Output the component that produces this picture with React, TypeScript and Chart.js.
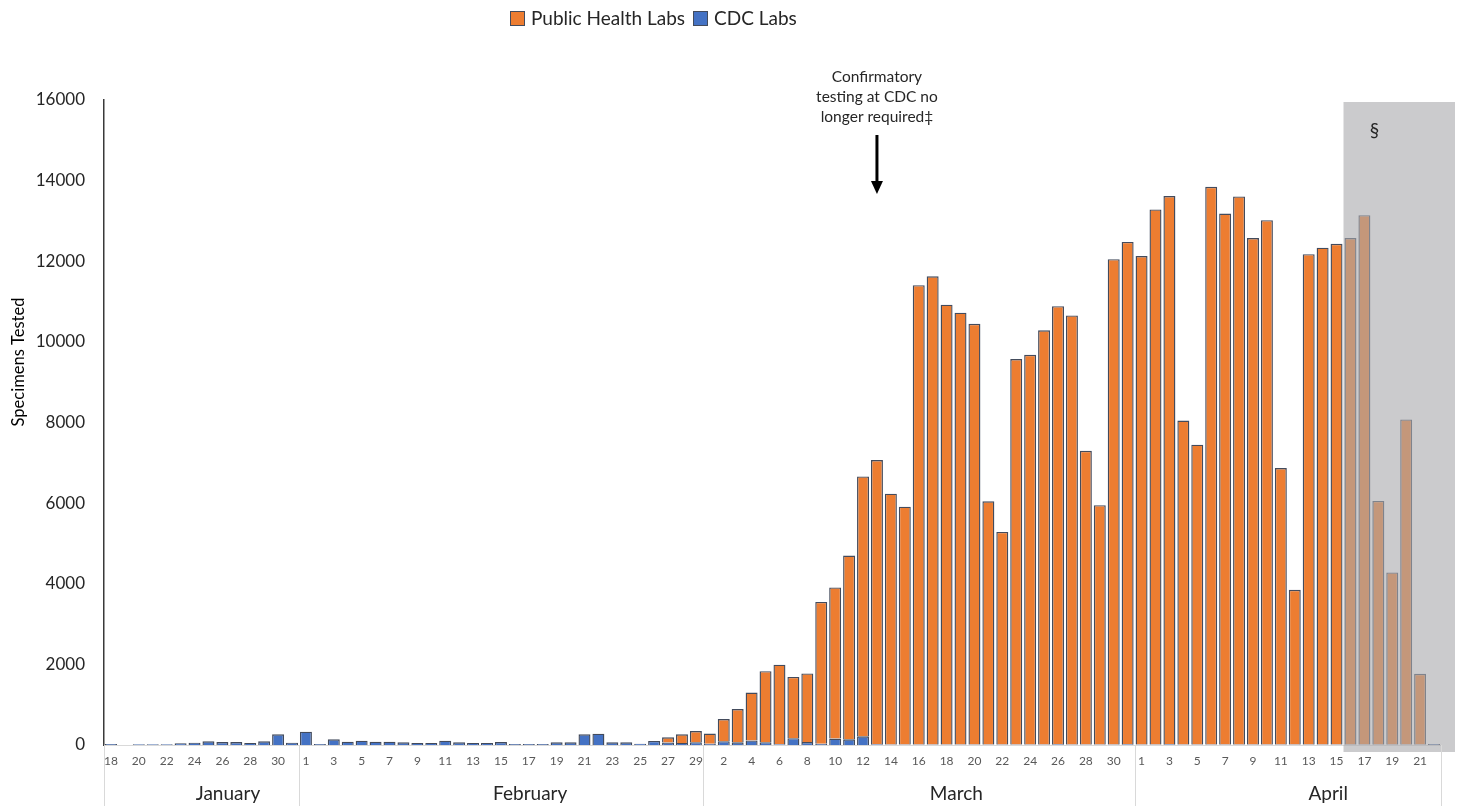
import React, { useEffect, useRef } from "react";
import { Chart, registerables } from "chart.js";

Chart.register(...registerables);

// ---------- DATA ----------
const januaryDays = [18, 19, 20, 21, 22, 23, 24, 25, 26, 27, 28, 29, 30, 31];
const februaryDays = [1, 2, 3, 4, 5, 6, 7, 8, 9, 10, 11, 12, 13, 14, 15, 16, 17, 18, 19, 20, 21, 22, 23, 24, 25, 26, 27, 28, 29];
const marchDays = [1, 2, 3, 4, 5, 6, 7, 8, 9, 10, 11, 12, 13, 14, 15, 16, 17, 18, 19, 20, 21, 22, 23, 24, 25, 26, 27, 28, 29, 30, 31];
const aprilDays = [1, 2, 3, 4, 5, 6, 7, 8, 9, 10, 11, 12, 13, 14, 15, 16, 17, 18, 19, 20, 21, 22];
const monthNames = ["January", "February", "March", "April"];

const cdcJanuary = [25, 0, 20, 20, 20, 42, 57, 91, 74, 74, 50, 91, 265, 57];
const cdcFebruary = [331, 25, 140, 83, 107, 83, 83, 66, 50, 50, 108, 66, 50, 50, 74, 25, 25, 25, 66, 66, 265, 281, 66, 66, 33, 100, 60, 50, 70];
const cdcMarch = [30, 95, 66, 114, 70, 20, 170, 75, 30, 160, 140, 215, 20, 15, 10, 15, 10, 10, 10, 10, 10, 10, 10, 10, 10, 20, 10, 10, 10, 10, 20];
const cdcApril = [10, 10, 20, 10, 10, 10, 10, 10, 10, 10, 10, 10, 10, 10, 10, 10, 10, 10, 10, 10, 10, 25];

const phlJanuary = [0, 0, 0, 0, 0, 0, 0, 0, 0, 0, 0, 0, 0, 0];
const phlFebruary = [0, 0, 0, 0, 0, 0, 0, 0, 0, 0, 0, 0, 0, 0, 0, 0, 0, 0, 0, 0, 0, 0, 0, 0, 0, 0, 130, 215, 277];
const phlMarch = [255, 550, 826, 1186, 1762, 1973, 1519, 1700, 3519, 3750, 4558, 6447, 7050, 6220, 5902, 11392, 11615, 10913, 10714, 10438, 6035, 5276, 9565, 9670, 10277, 10865, 10647, 7288, 5940, 12042, 12459];
const phlApril = [12118, 13276, 13598, 8038, 7440, 13836, 13172, 13599, 12564, 13010, 6860, 3840, 12166, 12327, 12422, 12564, 13134, 6045, 4270, 8066, 1755, 0];

const yMin = 0;
const yMax = 16000;
const yStep = 2000;

const seriesNames = ["Public Health Labs", "CDC Labs"];
const annotationLines = ["Confirmatory", "testing at CDC no", "longer required\u2021"];
const provisionalMark = "\u00a7";
const yTitle = "Specimens Tested";

// ---------- derived ----------
const monthDays = [januaryDays, februaryDays, marchDays, aprilDays];
const dayLabels = monthDays.flat();
const cdcLabs = [...cdcJanuary, ...cdcFebruary, ...cdcMarch, ...cdcApril];
const publicHealthLabs = [...phlJanuary, ...phlFebruary, ...phlMarch, ...phlApril];
const categories = dayLabels.map((d, i) => `${d}-${i}`);
// annotation points at March 13, shading starts April 16
const annotationIndex = januaryDays.length + februaryDays.length + marchDays.indexOf(13);
const provisionalStart = januaryDays.length + februaryDays.length + marchDays.length + aprilDays.indexOf(16);

const FONT = "Lato, 'Noto Sans', sans-serif";
const ORANGE = "#ED7D31";
const BLUE = "#4472C4";
const BAR_BORDER = "#434b5c";

const overlayPlugin = {
  id: "overlays",
  afterDatasetsDraw(chart: any) {
    const { ctx, chartArea, scales } = chart;
    const xs = scales.x;
    const ys = scales.y;
    const slot = (chartArea.right - chartArea.left) / categories.length;
    const x0 = xs.getPixelForValue(provisionalStart) - slot / 2;
    const x1 = chartArea.right + 14;
    const y0 = ys.getPixelForValue(yMax) + 2;
    const y1 = chartArea.bottom + 7;
    ctx.save();
    ctx.fillStyle = "rgba(168,168,171,0.6)";
    ctx.fillRect(x0, y0, x1 - x0, y1 - y0);
    ctx.restore();
  },
  afterDraw(chart: any) {
    const { ctx, chartArea, scales } = chart;
    const xs = scales.x;
    const slot = (chartArea.right - chartArea.left) / categories.length;
    ctx.save();

    // month dividers + labels
    ctx.strokeStyle = "#d9d9d9";
    ctx.lineWidth = 1;
    let start = 0;
    const boundaries = [0];
    monthDays.forEach((m) => {
      start += m.length;
      boundaries.push(start);
    });
    boundaries.forEach((b) => {
      const x = Math.round(chartArea.left + b * slot) + 0.5;
      ctx.beginPath();
      ctx.moveTo(x, chartArea.bottom);
      ctx.lineTo(x, chartArea.bottom + 61);
      ctx.stroke();
    });
    const monthLabelPos = [8.9, 30.6, 61.2, 87.9];
    ctx.fillStyle = "#262626";
    ctx.font = `19px ${FONT}`;
    ctx.textAlign = "center";
    ctx.textBaseline = "middle";
    monthNames.forEach((name, i) => {
      ctx.fillText(name, chartArea.left + monthLabelPos[i] * slot, chartArea.bottom + 49);
    });

    // legend
    const legendItems = [
      { text: seriesNames[0], color: ORANGE, x: 510 },
      { text: seriesNames[1], color: BLUE, x: 693 },
    ];
    ctx.font = `19px ${FONT}`;
    ctx.textAlign = "left";
    legendItems.forEach((it) => {
      ctx.fillStyle = it.color;
      ctx.fillRect(it.x, 11, 15, 15);
      ctx.strokeStyle = BAR_BORDER;
      ctx.lineWidth = 1;
      ctx.strokeRect(it.x + 0.5, 11.5, 14, 14);
      ctx.fillStyle = "#262626";
      ctx.fillText(it.text, it.x + 21, 19);
    });

    // annotation
    const ax = xs.getPixelForValue(annotationIndex);
    ctx.fillStyle = "#262626";
    ctx.font = `15.5px ${FONT}`;
    ctx.textAlign = "center";
    annotationLines.forEach((l, i) => {
      ctx.fillText(l, ax, 77 + i * 20);
    });
    ctx.strokeStyle = "#000";
    ctx.lineWidth = 3;
    ctx.beginPath();
    ctx.moveTo(ax, 135);
    ctx.lineTo(ax, 183);
    ctx.stroke();
    ctx.fillStyle = "#000";
    ctx.beginPath();
    ctx.moveTo(ax - 6, 181);
    ctx.lineTo(ax + 6, 181);
    ctx.lineTo(ax, 194);
    ctx.closePath();
    ctx.fill();

    // section mark
    ctx.font = `19px ${FONT}`;
    ctx.fillStyle = "#262626";
    ctx.fillText(provisionalMark, xs.getPixelForValue(provisionalStart) + 24, 131);

    // y title
    ctx.translate(19, 362);
    ctx.rotate(-Math.PI / 2);
    ctx.font = `16.5px ${FONT}`;
    ctx.fillStyle = "#000";
    ctx.fillText(yTitle, 0, 0);
    ctx.restore();
  },
};

export default function App() {
  const ref = useRef<HTMLCanvasElement | null>(null);
  useEffect(() => {
    if (!ref.current) return;
    const chart = new Chart(ref.current, {
      type: "bar",
      data: {
        labels: categories,
        datasets: [
          {
            label: seriesNames[1],
            data: cdcLabs,
            backgroundColor: BLUE,
            borderColor: BAR_BORDER,
            borderWidth: 1.4,
            barPercentage: 0.86,
            categoryPercentage: 1,
          },
          {
            label: seriesNames[0],
            data: publicHealthLabs,
            backgroundColor: ORANGE,
            borderColor: BAR_BORDER,
            borderWidth: 1.4,
            barPercentage: 0.86,
            categoryPercentage: 1,
          },
        ],
      },
      options: {
        responsive: false,
        animation: false,
        devicePixelRatio: 1,
        layout: { padding: { top: 100, right: 26, left: 0, bottom: 0 } },
        plugins: { legend: { display: false }, tooltip: { enabled: false } },
        scales: {
          x: {
            stacked: true,
            grid: { display: false, drawTicks: false },
            border: { display: true, color: "#d9d9d9", width: 1 },
            ticks: {
              autoSkip: false,
              maxRotation: 0,
              minRotation: 0,
              padding: 9,
              color: "#595959",
              font: { family: FONT, size: 12 },
              callback: (_v: any, i: number) => (i % 2 === 0 ? String(dayLabels[i]) : ""),
            },
            afterFit: (s: any) => {
              s.height = 62;
            },
          },
          y: {
            stacked: true,
            min: yMin,
            max: yMax,
            grid: { display: false, drawTicks: false },
            border: { display: true, color: "#3a3a3a", width: 1.5 },
            ticks: {
              stepSize: yStep,
              padding: 19,
              color: "#262626",
              font: { family: FONT, size: 17 },
              callback: (v: any) => String(v),
            },
            afterFit: (s: any) => {
              s.width = 104;
            },
          },
        },
      },
      plugins: [overlayPlugin],
    });
    return () => chart.destroy();
  }, []);
  return (
    <div style={{ position: "fixed", left: 0, top: 0, width: 1467, height: 807, background: "#fff" }}>
      <canvas ref={ref} width={1467} height={807} style={{ width: 1467, height: 807, display: "block" }} />
    </div>
  );
}
